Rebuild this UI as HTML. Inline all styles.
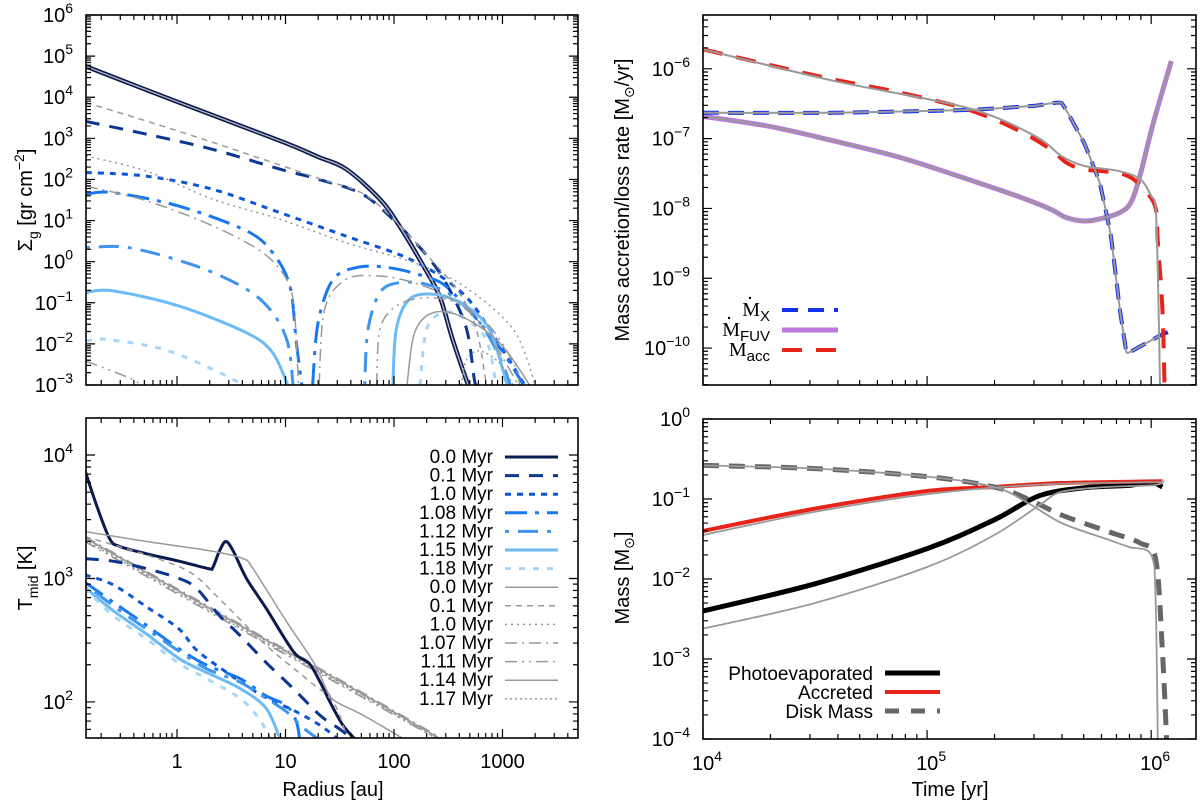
<!DOCTYPE html>
<html><head><meta charset="utf-8"><title>Disk evolution panels</title>
<style>
html,body{margin:0;padding:0;background:#fff;}
svg{display:block;font-family:"Liberation Sans",sans-serif;}
</style></head>
<body>
<svg id="c" width="1200" height="803" xmlns="http://www.w3.org/2000/svg"></svg>
<script>
// ===== Top-left: surface density (log10 R [au], log10 Sigma) ; null = gap =====
const sigR_00=[-0.85,0,0.95,1.3,1.56,1.87,2.05,2.27,2.42,2.54,2.68];
const sigV_00=[4.76,3.89,2.94,2.55,2.25,1.52,0.87,-0.1,-0.84,-1.89,-2.98];
const sigR_01=[-0.84,-0.28,0.33,0.95,1.31,1.71,2.02,2.33,2.51,2.67,2.74,2.76];
const sigV_01=[3.41,3.10,2.73,2.25,2.0,1.64,0.95,0.06,-0.67,-1.65,-2.86,-3];
const sigR_10=[-0.84,-0.28,0.33,0.95,1.56,2.18,2.64,2.94,3.2];
const sigV_10=[2.17,2.08,1.76,1.19,0.62,0.02,-0.79,-1.89,-2.98];
const sigR_108=[-0.84,-0.59,0.02,0.64,0.88,1.04,1.1,1.15,null,1.25,1.3,1.44,1.68,1.96,2.27,2.51,2.94,3.19];
const sigV_108=[1.64,1.68,1.35,0.75,0.22,-0.59,-1.97,-3,null,-3,-1.48,-0.43,-0.13,-0.15,-0.35,-0.67,-1.97,-2.98];
const sigR_112=[-0.84,-0.44,0.18,0.64,0.88,1.02,1.07,null,1.73,1.76,1.87,2.05,2.3,2.54,2.79,2.97,3.07];
const sigV_112=[0.34,0.34,-0.11,-0.67,-1.24,-1.97,-3,null,-3,-1.65,-0.75,-0.51,-0.55,-0.84,-1.48,-2.3,-2.98];
const sigR_115=[-0.84,-0.59,0.02,0.64,0.88,1.02,null,1.99,2.02,2.14,2.36,2.64,2.88,3.04];
const sigV_115=[-0.75,-0.71,-1.08,-1.73,-2.21,-3,null,-3,-1.65,-0.92,-0.79,-1.04,-1.65,-2.98];
const sigR_118=[-0.84,-0.65,-0.13,0.33,0.61,null,2.24,2.3,2.45,2.64,2.85,2.94];
const sigV_118=[-1.93,-1.89,-2.13,-2.62,-3,null,-3,-1.65,-1.24,-1.36,-1.89,-2.98];
const sigRg_00=[-0.85,0,0.95,1.3,1.56,1.87,2.05,2.27,2.42,2.54,2.68];
const sigVg_00=[4.76,3.89,2.94,2.55,2.25,1.52,0.87,-0.1,-0.84,-1.89,-2.98];
const sigRg_01=[-0.84,-0.28,0.33,0.95,1.31,1.71,2.02,2.33,2.6,2.76,2.85];
const sigVg_01=[3.87,3.42,2.9,2.35,2.02,1.66,0.97,0.08,-0.75,-1.65,-2.98];
const sigRg_10=[-0.84,-0.28,0.33,0.95,1.56,2.18,2.64,3.1,3.3];
const sigVg_10=[2.57,2.2,1.52,1.03,0.46,-0.02,-0.59,-1.65,-2.98];
const sigRg_107=[-0.84,-0.28,0.33,0.79,1.01,1.08,1.12,null,1.31,1.36,1.56,1.87,2.18,2.48,2.79,3.1,3.13];
const sigVg_107=[1.84,1.48,0.87,0.22,-0.43,-1.16,-3,null,-3,-1.16,-0.43,-0.35,-0.51,-0.84,-1.48,-2.78,-3];
const sigRg_111=[-0.84,-0.41,-0.36,null,1.84,1.87,2.02,2.27,2.58,2.88,3.1,3.16];
const sigVg_111=[-2.42,-2.86,-3,null,-3,-1.65,-1.08,-0.88,-1.0,-1.57,-2.46,-3];
const sigRg_114=[2.12,2.18,2.3,2.48,2.73,3.0,3.25];
const sigVg_114=[-3,-1.81,-1.32,-1.22,-1.48,-2.05,-3];
const sigRg_117=[2.62,2.67,2.79,2.97,3.1];
const sigVg_117=[-3,-2.38,-2.17,-2.46,-3];

// ===== Bottom-left: midplane temperature (log10 R, log10 T) =====
const tR_00=[-0.85,-0.74,-0.62,-0.53,-0.28,0.02,0.29,0.33,0.39,0.45,0.52,0.64,0.82,1.01,1.1,1.22,1.32,1.41,1.53,1.64];
const tV_00=[3.88,3.59,3.32,3.26,3.2,3.14,3.08,3.09,3.22,3.30,3.22,3.0,2.76,2.49,2.38,2.31,2.16,2.0,1.81,1.70];
const tR_01=[-0.85,-0.59,-0.28,0.02,0.18,0.39,0.58,0.82,1.07,1.32,1.5,1.62];
const tV_01=[3.16,3.14,3.08,3.0,2.92,2.7,2.54,2.32,2.11,1.89,1.78,1.7];
const tR_10=[-0.85,-0.59,-0.28,0.02,0.18,0.49,0.79,1.1,1.32,1.47];
const tV_10=[3.03,2.95,2.77,2.59,2.42,2.22,2.05,1.92,1.81,1.71];
const tR_108=[-0.85,-0.59,-0.28,0.02,0.27,0.58,0.82,1.01,1.1,1.13];
const tV_108=[2.97,2.81,2.62,2.43,2.3,2.19,2.05,1.97,1.84,1.7];
const tR_112=[-0.85,-0.59,-0.28,0.02,0.27,0.58,0.82,1.01,1.15,1.3];
const tV_112=[2.96,2.78,2.59,2.41,2.27,2.16,2.03,1.92,1.8,1.7];
const tR_115=[-0.85,-0.59,-0.28,0.02,0.27,0.58,0.82,0.95];
const tV_115=[2.93,2.74,2.55,2.35,2.24,2.11,1.95,1.7];
const tR_118=[-0.85,-0.59,-0.28,0.02,0.27,0.58,0.76,0.86];
const tV_118=[2.92,2.7,2.51,2.31,2.19,2.03,1.86,1.7];
const tRg_00=[-0.85,-0.28,0.33,0.61,0.7,1.01,1.26,1.39,1.47,1.72,2.09];
const tVg_00=[3.38,3.3,3.22,3.16,3.08,2.65,2.32,2.08,2.0,1.89,1.7];
const tRg_01=[-0.85,-0.28,0.12,0.42,0.82,1.19,1.44,1.56];
const tVg_01=[3.34,3.19,3.05,2.81,2.46,2.19,2.0,1.73];
const tRg_10=[-0.85,0.5,1.5,2.42];
const tVg_10=[3.32,2.65,2.16,1.70];
const tRg_107=[-0.85,0.5,1.5,2.45];
const tVg_107=[3.34,2.67,2.18,1.70];
const tRg_111=[-0.85,0.5,1.5,2.40];
const tVg_111=[3.30,2.63,2.14,1.70];
const tRg_114=[-0.85,0.5,1.5,2.43];
const tVg_114=[3.33,2.66,2.17,1.70];
const tRg_117=[-0.85,0.5,1.5,2.41];
const tVg_117=[3.31,2.64,2.15,1.70];

// ===== Top-right: rates (log10 t [yr], log10 Mdot) =====
const rT_acc=[4.0,4.29,4.58,4.88,5.18,5.4,5.55,5.62,5.7,5.85,5.92,5.98,6.02,6.03,6.05,6.06];
const rV_acc=[-5.72,-5.94,-6.15,-6.34,-6.58,-6.87,-7.15,-7.34,-7.44,-7.49,-7.58,-7.77,-8.0,-8.49,-9.44,-10.6];
const rTg_acc=[4.0,4.58,5.18,5.48,5.6,5.7,5.85,5.95,6.0,6.02,6.03,6.04];
const rVg_acc=[-5.72,-6.17,-6.56,-6.96,-7.25,-7.39,-7.46,-7.58,-7.82,-8.0,-8.96,-10.6];
const rT_x=[4.0,4.58,5.18,5.48,5.6,5.7,5.77,5.82,5.86,5.89,5.92,6.04,6.09];
const rV_x=[-6.63,-6.63,-6.59,-6.53,-6.49,-7.06,-7.63,-8.39,-9.44,-10.06,-10.03,-9.82,-9.75];
const rTg_x=[4.0,4.58,5.18,5.48,5.6,5.7,5.77,5.82,5.86,5.89,5.92,6.04];
const rVg_x=[-6.63,-6.63,-6.59,-6.53,-6.49,-7.06,-7.63,-8.39,-9.44,-10.06,-10.03,-9.82];
const rT_fuv=[4.0,4.29,4.58,4.88,5.18,5.4,5.55,5.62,5.7,5.77,5.86,5.91,5.95,6.01,6.09];
const rV_fuv=[-6.68,-6.82,-7.03,-7.27,-7.58,-7.82,-8.01,-8.13,-8.18,-8.15,-8.06,-7.91,-7.53,-6.77,-5.89];

// ===== Bottom-right: masses (log10 t, log10 M) =====
const mT_ph=[4.0,4.5,5.0,5.3,5.5,5.7,5.9,6.0,6.05];
const mV_ph=[-2.40,-2.06,-1.62,-1.26,-0.96,-0.86,-0.83,-0.79,-0.85];
const mTg_ph=[4.0,4.5,5.0,5.3,5.5,5.6,5.8,6.0,6.05];
const mVg_ph=[-2.62,-2.3,-1.85,-1.45,-1.08,-0.91,-0.85,-0.83,-0.8];
const mT_acc=[4.0,4.5,5.0,5.3,5.6,6.0,6.05];
const mV_acc=[-1.4,-1.12,-0.9,-0.85,-0.8,-0.78,-0.78];
const mTg_acc=[4.0,4.5,5.0,5.5,6.0,6.05];
const mVg_acc=[-1.45,-1.16,-0.94,-0.82,-0.79,-0.79];
const mT_disk=[4.0,4.5,5.0,5.3,5.45,5.6,5.8,5.95,6.02,6.05,6.07];
const mV_disk=[-0.58,-0.62,-0.72,-0.85,-1.0,-1.2,-1.4,-1.55,-1.75,-2.9,-4.1];
const mTg_disk=[4.0,4.5,5.0,5.3,5.45,5.6,5.8,5.9,6.0,6.02,6.03];
const mVg_disk=[-0.58,-0.62,-0.72,-0.85,-1.05,-1.3,-1.5,-1.6,-1.7,-2.3,-4.1];

// ===== tick labels =====
const tlSigY=[6,5,4,3,2,1,0,-1,-2,-3];
const tlTY=[4,3,2];
const tlRX=["1","10","100","1000"];
const tlRateY=[-6,-7,-8,-9,-10];
const tlMassY=[0,-1,-2,-3,-4];
const tlTimeX=[4,5,6];

const NS='http://www.w3.org/2000/svg';
const svg=document.getElementById('c');
function el(tag,attrs,parent){const e=document.createElementNS(NS,tag);for(const k in attrs)e.setAttribute(k,attrs[k]);(parent||svg).appendChild(e);return e;}
function mk(P){P.sx=v=>P.l+(v-P.xmin)/(P.xmax-P.xmin)*(P.r-P.l);P.sy=v=>P.b-(v-P.ymin)/(P.ymax-P.ymin)*(P.b-P.t);return P;}

const PTL=mk({id:'tl',l:86,r:578,t:15,b:385,xmin:-0.839,xmax:3.696,ymin:-3,ymax:6});
const PBL=mk({id:'bl',l:86,r:578,t:418,b:738,xmin:-0.839,xmax:3.696,ymin:1.708,ymax:4.30});
const PTR=mk({id:'tr',l:703,r:1196,t:15,b:385,xmin:4,xmax:6.2,ymin:-10.529,ymax:-5.229});
const PBR=mk({id:'br',l:703,r:1196,t:419,b:739,xmin:4,xmax:6.2,ymin:-4,ymax:0});

const defs=el('defs',{});
[PTL,PBL,PTR,PBR].forEach(P=>{
  const cp=el('clipPath',{id:'clip-'+P.id},defs);
  el('rect',{x:P.l,y:P.t,width:P.r-P.l,height:P.b-P.t},cp);
  P.g=el('g',{'clip-path':'url(#clip-'+P.id+')'});
  
  
});

function smoothPath(pts,k){
  if(pts.length<2)return '';
  let d='M'+pts[0][0].toFixed(1)+' '+pts[0][1].toFixed(1);
  for(let i=0;i<pts.length-1;i++){
    const p0=pts[Math.max(0,i-1)],p1=pts[i],p2=pts[i+1],p3=pts[Math.min(pts.length-1,i+2)];
    const c1x=p1[0]+(p2[0]-p0[0])*k,c1y=p1[1]+(p2[1]-p0[1])*k;
    const c2x=p2[0]-(p3[0]-p1[0])*k,c2y=p2[1]-(p3[1]-p1[1])*k;
    d+='C'+c1x.toFixed(1)+' '+c1y.toFixed(1)+' '+c2x.toFixed(1)+' '+c2y.toFixed(1)+' '+p2[0].toFixed(1)+' '+p2[1].toFixed(1);
  }
  return d;
}
function series(P,xs,ys,color,w,dash,name,k){
  if(k===undefined)k=0.16;
  let d='',run=[];
  for(let i=0;i<=xs.length;i++){
    if(i===xs.length||xs[i]===null||ys[i]===null){d+=smoothPath(run,k);run=[];continue;}
    run.push([P.sx(xs[i]),P.sy(ys[i])]);
  }
  const p=el('path',{d:d,fill:'none',stroke:color,'stroke-width':w,'stroke-dasharray':dash||'none','stroke-linejoin':'round'},P.g);
  
  
  return p;
}

function axes(P){
  const g=el('g',{stroke:'#000','stroke-width':1.2,fill:'none'});
  
  
  let d='';
  for(let dd=Math.floor(P.xmin);dd<=Math.ceil(P.xmax);dd++)for(let k=1;k<=9;k++){
    const v=dd+Math.log10(k);if(v<P.xmin-1e-6||v>P.xmax+1e-6)continue;
    const x=P.sx(v),L=k===1?9:5;
    d+='M'+x+' '+P.b+'v'+(-L)+'M'+x+' '+P.t+'v'+L;
  }
  for(let dd=Math.floor(P.ymin);dd<=Math.ceil(P.ymax);dd++)for(let k=1;k<=9;k++){
    const v=dd+Math.log10(k);if(v<P.ymin-1e-6||v>P.ymax+1e-6)continue;
    const y=P.sy(v),L=k===1?9:5;
    d+='M'+P.l+' '+y+'h'+L+'M'+P.r+' '+y+'h'+(-L);
  }
  el('path',{d:d},g);
  el('rect',{x:P.l,y:P.t,width:P.r-P.l,height:P.b-P.t,'stroke-width':1.6},g);
}

function pow10Label(x,y,exp,anchor,name){
  const t=el('text',{x:x,y:y,'font-size':20,'text-anchor':anchor,fill:'#000'});
  
  
  const a=el('tspan',{},t);a.textContent='10';
  const b=el('tspan',{dy:-9,'font-size':14},t);b.textContent=String(exp).replace('-','\u2212');
  return t;
}

// ----- draw series -----
const navy='#0b1a4e',c01='#0a3590',c10='#0d55d6',c108='#1a78ee',c112='#3d95f0',c115='#6cbaf6',c118='#a5d6f8',gry='#999';
series(PTL,sigR_00,sigV_00,navy,4.5,null,'sigma-0.0-myr');
series(PTL,sigR_01,sigV_01,c01,3,'14,10','sigma-0.1-myr');
series(PTL,sigR_10,sigV_10,c10,3,'6,6','sigma-1.0-myr');
series(PTL,sigR_108,sigV_108,c108,3,'22,8,4,8','sigma-1.08-myr');
series(PTL,sigR_112,sigV_112,c112,3,'4,9,20,9','sigma-1.12-myr');
series(PTL,sigR_115,sigV_115,c115,3,null,'sigma-1.15-myr');
series(PTL,sigR_118,sigV_118,c118,3,'6,8','sigma-1.18-myr');
series(PTL,sigRg_00,sigVg_00,'#b8bcc8',1.3,null,'sigma-model-0.0-myr');
series(PTL,sigRg_01,sigVg_01,gry,1.5,'6,5','sigma-model-0.1-myr');
series(PTL,sigRg_10,sigVg_10,gry,1.5,'2,4','sigma-model-1.0-myr');
series(PTL,sigRg_107,sigVg_107,gry,1.5,'12,5,2,5','sigma-model-1.07-myr');
series(PTL,sigRg_111,sigVg_111,gry,1.5,'12,5,2,5,2,5','sigma-model-1.11-myr');
series(PTL,sigRg_114,sigVg_114,gry,1.5,null,'sigma-model-1.14-myr');
series(PTL,sigRg_117,sigVg_117,gry,1.5,'2,3','sigma-model-1.17-myr');

series(PBL,tRg_10,tVg_10,gry,1.6,'2,4','temp-model-1.0-myr');
series(PBL,tRg_107,tVg_107,gry,1.6,'12,5,2,5','temp-model-1.07-myr');
series(PBL,tRg_111,tVg_111,gry,1.6,'12,5,2,5,2,5','temp-model-1.11-myr');
series(PBL,tRg_114,tVg_114,gry,1.6,null,'temp-model-1.14-myr');
series(PBL,tRg_117,tVg_117,gry,1.6,'2,3','temp-model-1.17-myr');
series(PBL,tR_00,tV_00,navy,3,null,'temp-0.0-myr');
series(PBL,tR_01,tV_01,c01,3,'14,10','temp-0.1-myr');
series(PBL,tR_10,tV_10,c10,3,'6,6','temp-1.0-myr');
series(PBL,tR_108,tV_108,c108,3,'22,8,4,8','temp-1.08-myr');
series(PBL,tR_112,tV_112,c112,3,'4,9,20,9','temp-1.12-myr');
series(PBL,tR_115,tV_115,c115,3,null,'temp-1.15-myr');
series(PBL,tR_118,tV_118,c118,3,'6,8','temp-1.18-myr');
series(PBL,tRg_00,tVg_00,gry,1.5,null,'temp-model-0.0-myr');
series(PBL,tRg_01,tVg_01,gry,1.5,'6,5','temp-model-0.1-myr');

series(PTR,rT_fuv,rV_fuv,'#bb77dd',5,null,'mdot-fuv');
series(PTR,rT_x,rV_x,'#1530f0',4,'16,9','mdot-x',0.05);
series(PTR,rT_acc,rV_acc,'#e8231a',4,'20,14','mdot-acc');
series(PTR,rT_fuv,rV_fuv,gry,2.2,null,'mdot-fuv-model');
series(PTR,rTg_x,rVg_x,gry,2,null,'mdot-x-model',0.05);
series(PTR,rTg_acc,rVg_acc,gry,2,null,'mdot-acc-model');

series(PBR,mT_ph,mV_ph,'#000',5,null,'mass-photoevaporated');
series(PBR,mT_acc,mV_acc,'#e8231a',4,null,'mass-accreted');
series(PBR,mT_disk,mV_disk,'#666',5,'16,10','mass-disk');
series(PBR,mTg_ph,mVg_ph,gry,1.8,null,'mass-photoevaporated-model');
series(PBR,mTg_acc,mVg_acc,gry,1.8,null,'mass-accreted-model');
series(PBR,mTg_disk,mVg_disk,gry,1.8,null,'mass-disk-model');

[PTL,PBL,PTR,PBR].forEach(axes);

// ----- tick labels -----
tlSigY.forEach(e=>pow10Label(73,PTL.sy(e)+7,e,'end','y-tick-sigma'));
tlTY.forEach(e=>pow10Label(73,PBL.sy(e)+7,e,'end','y-tick-temp'));
tlRX.forEach((s,i)=>{const t=el('text',{x:PBL.sx(i),y:768,'font-size':20,'text-anchor':'middle'});t.textContent=s;
  
  });
tlRateY.forEach(e=>pow10Label(690,PTR.sy(e)+7,e,'end','y-tick-rate'));
tlMassY.forEach(e=>pow10Label(690,PBR.sy(e)+7,e,'end','y-tick-mass'));
tlTimeX.forEach(e=>pow10Label(PBR.sx(e)+4,770,e,'middle','x-tick-time'));

// ----- axis titles -----
function title(x,y,rot,parts,name){
  const t=el('text',{x:x,y:y,'font-size':20,'text-anchor':'middle',transform:rot?'rotate(-90 '+x+' '+y+')':''});
  
  
  parts.forEach(p=>{const s=el('tspan',p[1]||{},t);s.textContent=p[0];});
}
title(32,200,true,[['\u03A3'],['g',{dy:6,'font-size':14}],[' [gr cm',{dy:-6}],['\u22122',{dy:-8,'font-size':14}],[']',{dy:8}]],'y-axis-title-sigma');
title(32,578,true,[['T'],['mid',{dy:6,'font-size':14}],[' [K]',{dy:-6}]],'y-axis-title-temp');
title(333,796,false,[['Radius [au]']],'x-axis-title-radius');
title(629,200,true,[['Mass accretion/loss rate [M'],['\u2299',{dy:5,'font-size':14}],['/yr]',{dy:-5}]],'y-axis-title-rate');
title(629,578,true,[['Mass [M'],['\u2299',{dy:5,'font-size':14}],[']',{dy:-5}]],'y-axis-title-mass');
title(950,796,false,[['Time [yr]']],'x-axis-title-time');

// ----- legend bottom-left -----
const legLabels=['0.0 Myr','0.1 Myr','1.0 Myr','1.08 Myr','1.12 Myr','1.15 Myr','1.18 Myr','0.0 Myr','0.1 Myr','1.0 Myr','1.07 Myr','1.11 Myr','1.14 Myr','1.17 Myr'];
const legStyles=[[navy,3,null],[c01,3,'14,10'],[c10,3,'6,6'],[c108,3,'22,8,4,8'],[c112,3,'4,9,20,9'],[c115,3,null],[c118,3,'6,8'],[gry,1.5,null],[gry,1.5,'6,5'],[gry,1.5,'2,4'],[gry,1.5,'12,5,2,5'],[gry,1.5,'12,5,2,5,2,5'],[gry,1.5,null],[gry,1.5,'2,3']];
const lg=el('g',{});


legLabels.forEach((s,i)=>{
  const y=457+i*18.6;
  const t=el('text',{x:493,y:y+6,'font-size':19,'text-anchor':'end'},lg);t.textContent=s;
  
  
  const st=legStyles[i];
  const l=el('line',{x1:505,x2:558,y1:y,y2:y,stroke:st[0],'stroke-width':st[1],'stroke-dasharray':st[2]||'none'},lg);
  
  
});

// ----- legend top-right -----
const lr=el('g',{'font-family':'"Liberation Serif",serif','font-size':20});


[['X','#1530f0',4,'16,10',310],['FUV','#bb77dd',5,null,330],['acc','#e8231a',4,'20,14',350]].forEach(r=>{
  const t=el('text',{x:770,y:r[4]+6,'text-anchor':'end'},lr);
  
  
  const a=el('tspan',{},t);a.textContent='M';
  const b=el('tspan',{dy:5,'font-size':15,'font-family':'"Liberation Sans",sans-serif'},t);b.textContent=r[0];
  const l=el('line',{x1:782,x2:838,y1:r[4],y2:r[4],stroke:r[1],'stroke-width':r[2],'stroke-dasharray':r[3]||'none'},lr);
  
  
});
el('circle',{cx:750,cy:298,r:1.2,fill:'#000'},lr);
el('circle',{cx:729,cy:318,r:1.2,fill:'#000'},lr);

// ----- legend bottom-right -----
const lm=el('g',{});


[['Photoevaporated','#000',5,null,673],['Accreted','#e8231a',4,null,692],['Disk Mass','#666',5,'14,12',711]].forEach(r=>{
  const t=el('text',{x:873,y:r[4]+7,'font-size':19,'text-anchor':'end'},lm);t.textContent=r[0];
  
  
  const l=el('line',{x1:885,x2:940,y1:r[4],y2:r[4],stroke:r[1],'stroke-width':r[2],'stroke-dasharray':r[3]||'none'},lm);
  
  
});
</script>
</body></html>
